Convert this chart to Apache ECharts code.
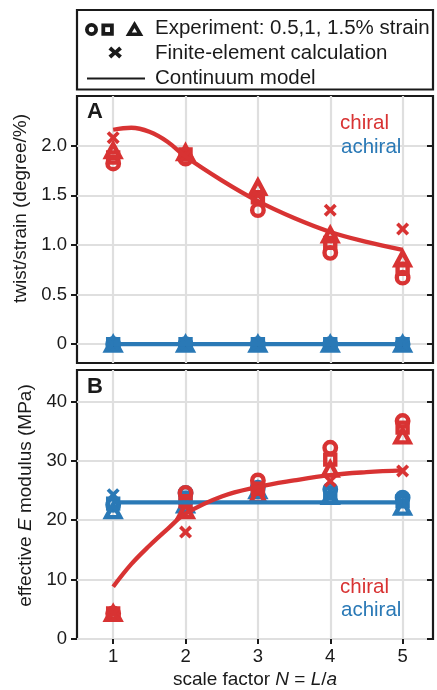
<!DOCTYPE html>
<html><head><meta charset="utf-8">
<script src="https://cdn.jsdelivr.net/npm/echarts@6/dist/echarts.min.js"></script>
<style>html,body{margin:0;padding:0;background:#fff}#c{width:437px;height:690px}</style>
</head><body><div id="c"></div>
<script>
// ---- data ----
const scaleFactors = [1, 2, 3, 4, 5];
const xTicks = [1, 2, 3, 4, 5];
const twistTicks = [0, 0.5, 1, 1.5, 2];
const modulusTicks = [0, 10, 20, 30, 40];

// Panel A: twist/strain (degree/%)
const twistChiralCircle = [1.82, 1.87, 1.35, 0.92, 0.67];
const twistChiralSquare = [1.88, 1.91, 1.48, 1.02, 0.76];
const twistChiralTriangle = [1.95, 1.93, 1.58, 1.10, 0.86];
const twistChiralFE = [2.08, 1.90, 1.50, 1.35, 1.16];
const twistAchiralCircle = [0, 0, 0, 0, 0];
const twistAchiralSquare = [0, 0, 0, 0, 0];
const twistAchiralTriangle = [0, 0, 0, 0, 0];
const twistAchiralFE = [0, 0, 0, 0, 0];
const modelX = [1, 1.25, 1.5, 1.75, 2, 2.5, 3, 3.5, 4, 4.5, 5];
const twistChiralModel = [2.16, 2.18, 2.14, 2.04, 1.89, 1.65, 1.44, 1.27, 1.13, 1.03, 0.95];
const twistAchiralModel = [0, 0, 0, 0, 0, 0, 0, 0, 0, 0, 0];

// Panel B: effective E modulus (MPa)
const modChiralCircle = [4.3, 24.6, 26.7, 32.2, 36.7];
const modChiralSquare = [4.3, 23.2, 25.3, 30.2, 35.6];
const modChiralTriangle = [4.3, 21.6, 24.2, 28.6, 34.2];
const modChiralFE = [4.3, 18.0, 25.0, 26.6, 28.3];
const modAchiralCircle = [22.6, 24.6, 25.5, 25.2, 23.8];
const modAchiralSquare = [22.8, 23.8, 25.0, 24.6, 23.2];
const modAchiralTriangle = [21.6, 22.6, 25.0, 24.0, 22.2];
const modAchiralFE = [24.3, 23.5, 25.2, 24.0, 23.0];
const modChiralModel = [8.8, 12.6, 15.7, 18.5, 21.1, 24.0, 25.6, 26.7, 27.6, 28.1, 28.4];
const modAchiralModel = [23.0, 23.0, 23.0, 23.0, 23.0, 23.0, 23.0, 23.0, 23.0, 23.0, 23.0];

// ---- styling ----
const RED = '#d83333', BLUE = '#2a79b6', INK = '#1a1a1a', GRIDC = '#dfdfdf';
const FONT = '"Liberation Sans", Arial, sans-serif';
const XPATH = 'path://M0,2 L2,0 L5,3 L8,0 L10,2 L7,5 L10,8 L8,10 L5,7 L2,10 L0,8 L3,5 Z';

function pairs(xs, ys) { return xs.map((x, i) => [x, ys[i]]); }
function markers(name, ys, color, shape, gi) {
  const base = { type: 'scatter', name, xAxisIndex: gi * 2, yAxisIndex: gi * 2, data: pairs(scaleFactors, ys), silent: true };
  const hollow = { color: 'rgba(0,0,0,0)', borderColor: color, borderWidth: 4.4, opacity: 1 };
  if (shape === 'circle') return Object.assign(base, { symbol: 'circle', symbolSize: 11.5, itemStyle: hollow });
  if (shape === 'square') return Object.assign(base, { symbol: 'rect', symbolSize: 10, itemStyle: hollow });
  if (shape === 'triangle') return Object.assign(base, { symbol: 'triangle', symbolSize: [14, 13], itemStyle: hollow });
  return Object.assign(base, { symbol: XPATH, symbolSize: 13, itemStyle: { color: color, opacity: 1 } });
}
function model(name, ys, color, gi) {
  return { type: 'line', name, xAxisIndex: gi * 2, yAxisIndex: gi * 2, data: pairs(modelX, ys), smooth: 0.4, showSymbol: false, silent: true,
    lineStyle: { color: color, width: 4.3, opacity: 1 } };
}
const richName = { n: { fontFamily: FONT, fontSize: 19, color: INK }, i: { fontFamily: FONT, fontSize: 19, fontStyle: 'italic', color: INK } };

function xAxesFor(gi, showLabels) {
  return [
    { type: 'value', gridIndex: gi, position: 'bottom', min: 0.5, max: 5.42,
      axisLine: { show: false },
      axisTick: { show: true, inside: false, length: 5, customValues: xTicks, lineStyle: { color: INK, width: 2 } },
      axisLabel: { show: showLabels, customValues: xTicks, color: INK, fontFamily: FONT, fontSize: 18.5, margin: 8 },
      splitLine: { show: true, lineStyle: { color: GRIDC, width: 2.2 } },
      name: showLabels ? '{n|scale factor }{i|N}{n| = }{i|L}{n|/}{i|a}' : '', nameLocation: 'middle', nameGap: 31,
      nameTextStyle: { rich: richName } },
    { type: 'value', gridIndex: gi, position: 'top', min: 0.5, max: 5.42,
      axisLine: { show: false },
      axisTick: { show: true, inside: true, length: 5, customValues: xTicks, lineStyle: { color: INK, width: 2 } },
      axisLabel: { show: false }, splitLine: { show: false } }
  ];
}
function yAxesFor(gi, min, max, ticks, fmt, name, pad) {
  return [
    { type: 'value', gridIndex: gi, position: 'left', min, max,
      axisLine: { show: false },
      axisTick: { show: true, inside: false, length: 6, customValues: ticks, lineStyle: { color: INK, width: 2 } },
      axisLabel: { customValues: ticks, formatter: fmt, color: INK, fontFamily: FONT, fontSize: 18.5, margin: 10 },
      splitLine: { show: true, lineStyle: { color: GRIDC, width: 2.2 } },
      name, nameLocation: 'middle', nameGap: 23, nameRotate: 90,
      nameTextStyle: { padding: [0, 0, 0, pad], rich: richName } },
    { type: 'value', gridIndex: gi, position: 'right', min, max,
      axisLine: { show: false },
      axisTick: { show: true, inside: true, length: 6, customValues: ticks, lineStyle: { color: INK, width: 2 } },
      axisLabel: { show: false }, splitLine: { show: false } }
  ];
}

function txt(x, y, text, fill, font) {
  return { type: 'text', x, y, z: 100, silent: true, style: { text, fill, font, textVerticalAlign: 'middle', verticalAlign: 'middle' } };
}

const chart = echarts.init(document.getElementById('c'), null, { renderer: 'canvas' });
const gridBox = { show: true, borderColor: INK, borderWidth: 2.2, backgroundColor: 'transparent' };
const option = {
  animation: false,
  backgroundColor: '#fff',
  grid: [
    Object.assign({ left: 77, right: 4, top: 96, height: 267 }, gridBox),
    Object.assign({ left: 77, right: 4, top: 370, height: 270 }, gridBox)
  ],
  xAxis: [...xAxesFor(0, false), ...xAxesFor(1, true)],
  yAxis: [
    ...yAxesFor(0, -0.19, 2.5, twistTicks, v => v === 0 ? '0' : v.toFixed(1), '{n|twist/strain (degree/%)}', 42),
    ...yAxesFor(1, 0, 45.3, modulusTicks, v => String(v), '{n|effective }{i|E}{n| modulus (MPa)}', 18)
  ],
  series: [
    model('achiral model A', twistAchiralModel, BLUE, 0),
    markers('achiral circle A', twistAchiralCircle, BLUE, 'circle', 0),
    markers('achiral square A', twistAchiralSquare, BLUE, 'square', 0),
    markers('achiral triangle A', twistAchiralTriangle, BLUE, 'triangle', 0),
    markers('achiral FE A', twistAchiralFE, BLUE, 'x', 0),
    model('chiral model A', twistChiralModel, RED, 0),
    markers('chiral circle A', twistChiralCircle, RED, 'circle', 0),
    markers('chiral square A', twistChiralSquare, RED, 'square', 0),
    markers('chiral triangle A', twistChiralTriangle, RED, 'triangle', 0),
    markers('chiral FE A', twistChiralFE, RED, 'x', 0),
    model('achiral model B', modAchiralModel, BLUE, 1),
    markers('achiral circle B', modAchiralCircle, BLUE, 'circle', 1),
    markers('achiral square B', modAchiralSquare, BLUE, 'square', 1),
    markers('achiral triangle B', modAchiralTriangle, BLUE, 'triangle', 1),
    markers('achiral FE B', modAchiralFE, BLUE, 'x', 1),
    model('chiral model B', modChiralModel, RED, 1),
    markers('chiral circle B', modChiralCircle, RED, 'circle', 1),
    markers('chiral square B', modChiralSquare, RED, 'square', 1),
    markers('chiral triangle B', modChiralTriangle, RED, 'triangle', 1),
    markers('chiral FE B', modChiralFE, RED, 'x', 1)
  ],
  graphic: [
    { type: 'rect', z: 100, silent: true, shape: { x: 77, y: 10, width: 356, height: 79.5 }, style: { fill: 'none', stroke: INK, lineWidth: 2.2 } },
    { type: 'circle', z: 100, silent: true, shape: { cx: 91.5, cy: 29.5, r: 4.6 }, style: { fill: 'none', stroke: INK, lineWidth: 3.8 } },
    { type: 'rect', z: 100, silent: true, shape: { x: 103.3, y: 25.3, width: 8.6, height: 8.6 }, style: { fill: 'none', stroke: INK, lineWidth: 3.8 } },
    { type: 'polygon', z: 100, silent: true, shape: { points: [[134.5, 24.5], [140.2, 34.2], [128.8, 34.2]] }, style: { fill: 'none', stroke: INK, lineWidth: 3.6 } },
    txt(155, 28.5, 'Experiment: 0.5,1, 1.5% strain', INK, '20.5px ' + FONT),
    { type: 'polygon', z: 100, silent: true, shape: { points: [[108.5, 49.4], [111.2, 46.6], [115.2, 50.2], [119.2, 46.6], [121.9, 49.4], [118.2, 52.5], [121.9, 55.6], [119.2, 58.4], [115.2, 54.8], [111.2, 58.4], [108.5, 55.6], [112.2, 52.5]] }, style: { fill: INK } },
    txt(155, 53, 'Finite-element calculation', INK, '20.5px ' + FONT),
    { type: 'line', z: 100, silent: true, shape: { x1: 87, y1: 78.5, x2: 145, y2: 78.5 }, style: { stroke: INK, lineWidth: 2 } },
    txt(155, 78, 'Continuum model', INK, '20.5px ' + FONT),
    txt(87, 112, 'A', INK, 'bold 22px ' + FONT),
    txt(87, 387, 'B', INK, 'bold 22px ' + FONT),
    txt(340, 123, 'chiral', RED, '20.5px ' + FONT),
    txt(341, 147, 'achiral', BLUE, '20.5px ' + FONT),
    txt(340, 587, 'chiral', RED, '20.5px ' + FONT),
    txt(341, 610, 'achiral', BLUE, '20.5px ' + FONT)
  ]
};
chart.setOption(option);
</script>
</body></html>
